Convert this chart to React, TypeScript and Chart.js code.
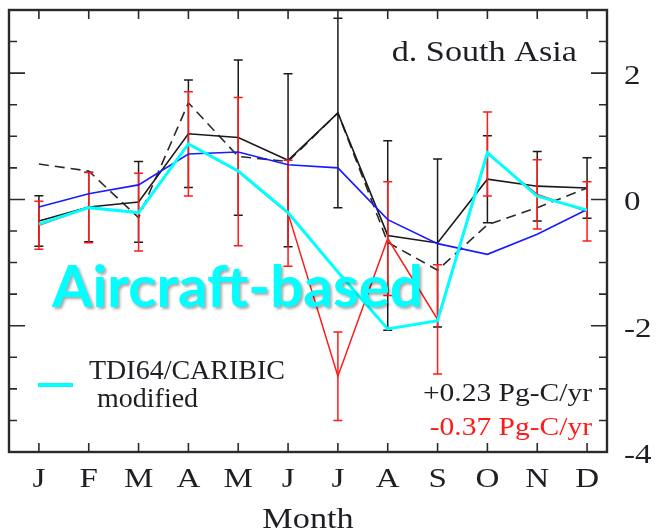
import { useEffect, useRef } from 'react';
import { Chart, registerables } from 'chart.js';

Chart.register(...registerables);

// Months on the x axis (1..12)
const months = ['J', 'F', 'M', 'A', 'M', 'J', 'J', 'A', 'S', 'O', 'N', 'D'];
const monthIndex = months.map((_, i) => i + 1);

// Monthly flux anomalies (Pg-C/yr per month, scaled)
const inversionSolid = [-0.34, -0.12, -0.04, 1.04, 0.98, 0.62, 1.37, -0.57, -0.69, 0.32, 0.21, 0.18];
const inversionSolidErr = [0.4, 0.55, 0.64, 0.85, 1.23, 1.37, 1.5, 1.5, 1.33, 0.69, 0.55, 0.48];
const inversionDashed = [0.56, 0.45, -0.29, 1.53, 0.68, 0.6, 1.37, -0.68, -1.12, -0.4, -0.13, 0.18];
const priorBlue = [-0.12, 0.09, 0.23, 0.72, 0.75, 0.55, 0.5, -0.32, -0.7, -0.87, -0.55, -0.16];
const caribicRed = [-0.41, -0.13, -0.2, 0.88, 0.44, -0.22, -2.8, -0.62, -1.9, 0.72, 0.08, -0.19];
const caribicRedErr = [0.38, 0.555, 0.615, 0.825, 1.175, 0.84, 0.7, 0.9, 0.865, 0.665, 0.55, 0.47];
const caribicModified = [-0.39, -0.13, -0.21, 0.88, 0.45, -0.21, -1.15, -2.05, -1.92, 0.74, 0.05, -0.17];

// Axis ticks
const yMinorTicks = [-4, -3.5, -3, -2.5, -2, -1.5, -1, -0.5, 0, 0.5, 1, 1.5, 2, 2.5, 3];
const yLabelTicks = [-4, -2, 0, 2];

const SERIF = '"Liberation Serif", "Times New Roman", serif';
const INK = '#1e1e24';
const STRETCH = 1.18;

const toPoints = (vals: number[]) => vals.map((y, i) => ({ x: monthIndex[i], y }));

function stretchedText(
  ctx: CanvasRenderingContext2D,
  text: string,
  x: number,
  y: number,
  align: 'left' | 'center' | 'right',
  sx: number
) {
  const w = ctx.measureText(text).width * sx;
  const left = align === 'left' ? x : align === 'center' ? x - w / 2 : x - w;
  ctx.save();
  ctx.translate(left, y);
  ctx.scale(sx, 1);
  ctx.textAlign = 'left';
  ctx.textBaseline = 'alphabetic';
  ctx.fillText(text, 0, 0);
  ctx.restore();
}

const figurePlugin = {
  id: 'figureDecor',
  afterDatasetDraw(chart: any, args: any) {
    const ds = chart.data.datasets[args.index];
    const errs: number[] | undefined = ds.errors;
    if (!errs) return;
    const { ctx } = chart;
    const xs = chart.scales.x;
    const ys = chart.scales.y;
    const vals: number[] = ds.centers;
    ctx.save();
    ctx.strokeStyle = ds.errorColor;
    ctx.lineWidth = 1.5;
    vals.forEach((v, i) => {
      const px = xs.getPixelForValue(monthIndex[i]);
      const top = ys.getPixelForValue(v + errs[i]);
      const bot = ys.getPixelForValue(v - errs[i]);
      ctx.beginPath();
      ctx.moveTo(px, top);
      ctx.lineTo(px, bot);
      ctx.moveTo(px - 4.5, top);
      ctx.lineTo(px + 4.5, top);
      ctx.moveTo(px - 4.5, bot);
      ctx.lineTo(px + 4.5, bot);
      ctx.stroke();
    });
    ctx.restore();
  },
  afterDraw(chart: any) {
    const { ctx, chartArea: a } = chart;
    const xs = chart.scales.x;
    const ys = chart.scales.y;
    ctx.save();

    // tick marks, pointing inward
    ctx.strokeStyle = '#2a2a2a';
    ctx.lineWidth = 1.6;
    ctx.beginPath();
    monthIndex.forEach((m) => {
      const px = xs.getPixelForValue(m);
      ctx.moveTo(px, a.top);
      ctx.lineTo(px, a.top + 9);
      ctx.moveTo(px, a.bottom);
      ctx.lineTo(px, a.bottom - 9);
    });
    yMinorTicks.forEach((v) => {
      const py = ys.getPixelForValue(v);
      const len = v % 2 === 0 ? 16 : 8;
      ctx.moveTo(a.left, py);
      ctx.lineTo(a.left + len, py);
      ctx.moveTo(a.right, py);
      ctx.lineTo(a.right - len, py);
    });
    ctx.stroke();

    // frame
    ctx.lineWidth = 2.4;
    ctx.strokeStyle = '#2a2a2a';
    ctx.strokeRect(a.left, a.top, a.right - a.left, a.bottom - a.top);

    // axis labels
    ctx.fillStyle = INK;
    ctx.font = `28px ${SERIF}`;
    months.forEach((m, i) => {
      stretchedText(ctx, m, xs.getPixelForValue(monthIndex[i]), 487, 'center', STRETCH);
    });
    yLabelTicks.forEach((v) => {
      const label = v < 0 ? `-${Math.abs(v)}` : `${v}`;
      stretchedText(ctx, label, a.right + 17, ys.getPixelForValue(v) + 11, 'left', STRETCH);
    });
    ctx.font = `29px ${SERIF}`;
    stretchedText(ctx, 'Month', (a.left + a.right) / 2, 528, 'center', STRETCH);

    // panel title
    ctx.font = `29px ${SERIF}`;
    stretchedText(ctx, 'd. South Asia', 577, 61, 'right', STRETCH);

    // trend annotations
    ctx.font = `25px ${SERIF}`;
    ctx.fillStyle = INK;
    stretchedText(ctx, '+0.23 Pg-C/yr', 592, 401, 'right', STRETCH);
    ctx.fillStyle = '#ff1a1a';
    stretchedText(ctx, '-0.37 Pg-C/yr', 592, 435, 'right', STRETCH);

    // legend
    ctx.strokeStyle = '#00ffff';
    ctx.lineWidth = 4;
    ctx.beginPath();
    ctx.moveTo(38, 385);
    ctx.lineTo(73, 385);
    ctx.stroke();
    ctx.fillStyle = INK;
    ctx.font = `28px ${SERIF}`;
    ctx.textAlign = 'left';
    ctx.textBaseline = 'alphabetic';
    ctx.fillText('TDI64/CARIBIC', 89, 379);
    ctx.fillText('modified', 97, 407);

    // overlay caption
    ctx.font = `bold 58px Lato, "Open Sans", sans-serif`;
    ctx.shadowColor = 'rgba(0,0,0,0.35)';
    ctx.shadowOffsetX = 2;
    ctx.shadowOffsetY = 2;
    ctx.shadowBlur = 3;
    ctx.fillStyle = '#00ffff';
    const cap = 'Aircraft-based';
    const w = ctx.measureText(cap).width;
    ctx.save();
    ctx.translate(52, 307);
    ctx.scale(371 / w, 1);
    ctx.fillText(cap, 0, 0);
    ctx.restore();

    ctx.restore();
  },
};

export default function App() {
  const ref = useRef<HTMLCanvasElement | null>(null);

  useEffect(() => {
    if (!ref.current) return;
    const lineBase = { pointRadius: 0, tension: 0, fill: false };
    const chart = new Chart(ref.current, {
      type: 'line',
      data: {
        datasets: [
          {
            ...lineBase,
            label: 'TDI64/CARIBIC modified',
            data: toPoints(caribicModified),
            borderColor: '#00ffff',
            borderWidth: 3,
            order: 0,
          },
          {
            ...lineBase,
            label: 'Prior',
            data: toPoints(priorBlue),
            borderColor: '#1a1aff',
            borderWidth: 1.6,
            order: 1,
          },
          {
            ...lineBase,
            label: 'TDI64/CARIBIC',
            data: toPoints(caribicRed),
            borderColor: '#ff1a1a',
            borderWidth: 1.5,
            order: 2,
            errors: caribicRedErr,
            centers: caribicRed,
            errorColor: '#ff1a1a',
          } as any,
          {
            ...lineBase,
            label: 'TDI64',
            data: toPoints(inversionSolid),
            borderColor: '#1a1a1a',
            borderWidth: 1.6,
            order: 3,
            errors: inversionSolidErr,
            centers: inversionSolid,
            errorColor: '#1a1a1a',
          } as any,
          {
            ...lineBase,
            label: 'TDI64 (alt)',
            data: toPoints(inversionDashed),
            borderColor: '#2a2a2a',
            borderWidth: 1.6,
            borderDash: [10, 6],
            order: 4,
          },
        ],
      },
      options: {
        responsive: false,
        animation: false,
        devicePixelRatio: 1,
        layout: { padding: { left: 9, top: 10, right: 49, bottom: 80 } },
        scales: {
          x: { type: 'linear', min: 0.4, max: 12.4, display: false },
          y: { type: 'linear', min: -4, max: 3, display: false },
        },
        plugins: { legend: { display: false }, tooltip: { enabled: false } },
      },
      plugins: [figurePlugin],
    });
    return () => chart.destroy();
  }, []);

  return (
    <canvas
      ref={ref}
      width={656}
      height={532}
      style={{ position: 'fixed', left: 0, top: 0, width: 656, height: 532, background: '#fff' }}
    />
  );
}
